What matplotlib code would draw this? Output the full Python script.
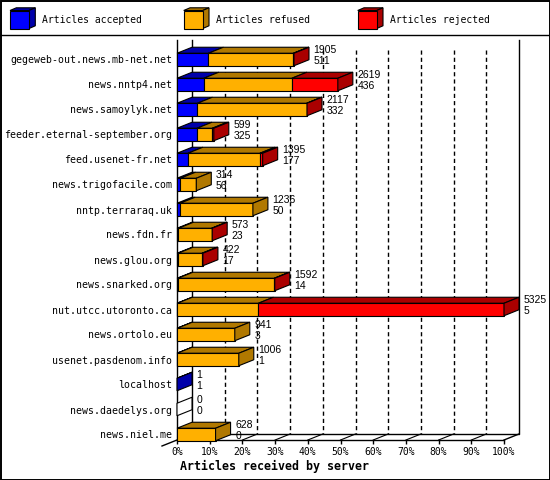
import numpy as np
import matplotlib.pyplot as plt
from matplotlib.patches import Polygon, Rectangle

plt.rcParams["lines.scale_dashes"] = False

servers = ["gegeweb-out.news.mb-net.net", "news.nntp4.net", "news.samoylyk.net",
           "feeder.eternal-september.org", "feed.usenet-fr.net", "news.trigofacile.com",
           "nntp.terraraq.uk", "news.fdn.fr", "news.glou.org", "news.snarked.org",
           "nut.utcc.utoronto.ca", "news.ortolo.eu", "usenet.pasdenom.info",
           "localhost", "news.daedelys.org", "news.niel.me"]
total = [1905, 2619, 2117, 599, 1395, 314, 1236, 573, 422, 1592, 5325, 941, 1006, 1, 0, 628]
accepted = [511, 436, 332, 325, 177, 56, 50, 23, 17, 14, 5, 3, 1, 1, 0, 0]
refused = [1384, 1434, 1780, 250, 1173, 258, 1186, 540, 390, 1571, 1320, 938, 1005, 0, 0, 628]
rejected = [10, 749, 5, 24, 45, 0, 0, 10, 15, 7, 4000, 0, 0, 0, 0, 0]
series = ["Articles accepted", "Articles refused", "Articles rejected"]

front = ["#0000ff", "#ffb000", "#ff0000"]
dark = ["#0000aa", "#b07800", "#aa0000"]

mono = "DejaVu Sans Mono"
W, Hpx = 550, 480
fig = plt.figure(figsize=(W / 100, Hpx / 100), dpi=100)

# background layer: frame + legend, in pixel units
bg = fig.add_axes([0, 0, 1, 1])
bg.set_xlim(0, W)
bg.set_ylim(Hpx, 0)
bg.axis("off")
bg.add_patch(Rectangle((0.5, 0.5), W - 1, Hpx - 1, fill=False, ec="black", lw=1.4))
bg.plot([0, W], [34.7, 34.7], color="black", lw=1)
for k, (name, x0) in enumerate(zip(series, [10, 183.7, 357.7])):
    fx, fy, fw, fh, cdx, cdy = x0, 10.5, 19, 18, 6.3, -2.7
    bg.add_patch(Polygon([(fx, fy), (fx + fw, fy), (fx + fw + cdx, fy + cdy), (fx + cdx, fy + cdy)],
                         fc=dark[k], ec="black", lw=0.8))
    bg.add_patch(Polygon([(fx + fw, fy), (fx + fw + cdx, fy + cdy), (fx + fw + cdx, fy + fh + cdy),
                          (fx + fw, fy + fh)], fc=dark[k], ec="black", lw=0.8))
    bg.add_patch(Rectangle((fx, fy), fw, fh, fc=front[k], ec="black", lw=0.8))
    bg.text(x0 + 32, 20, name, family=mono, fontsize=7, va="center", ha="left")

# main chart
ax = fig.add_axes([177 / W, 40 / Hpx, 327 / W, 400 / Hpx])
ax.set_facecolor("none")
ax.set_xlim(0, 100)
ax.set_ylim(15.22, -0.78)
DX = 15 / 3.27
DY = -0.24
H = 0.25
ytop = -0.78

# back wall, floor and grid
ax.plot([DX, DX, 100 + DX, 100 + DX], [ytop, 15.22 + DY, 15.22 + DY, ytop],
        color="black", lw=1, clip_on=False)
ax.plot([-DX, 0, DX], [15.22 - DY, 15.22, 15.22 + DY], color="black", lw=1, clip_on=False)
ax.plot([100, 100 + DX], [15.22, 15.22 + DY], color="black", lw=1, clip_on=False)
for p in range(10, 100, 10):
    ax.plot([p + DX, p + DX], [ytop + 0.4, 15.22 + DY], color="black", lw=1,
            linestyle=(0, (3, 2.2)), clip_on=False)
    ax.plot([p, p + DX], [15.22, 15.22 + DY], color="black", lw=0.8, clip_on=False)

scale = 100 / max(total)
for i in range(len(servers)):
    vals = [accepted[i], refused[i], rejected[i]]
    x0 = 0
    last = None
    for k, v in enumerate(vals):
        if v <= 0:
            continue
        w = v * scale
        x1 = x0 + w
        ax.add_patch(Polygon([(x0, i - H), (x1, i - H), (x1 + DX, i - H + DY), (x0 + DX, i - H + DY)],
                             fc=dark[k], ec="black", lw=0.8, zorder=3, clip_on=False))
        ax.barh(i, w, left=x0, height=2 * H, color=front[k], edgecolor="black",
                linewidth=0.8, zorder=4, clip_on=False)
        x0 = x1
        last = k
    side_fc = dark[last] if last is not None else "white"
    ax.add_patch(Polygon([(x0, i - H), (x0 + DX, i - H + DY), (x0 + DX, i + H + DY), (x0, i + H)],
                         fc=side_fc, ec="black", lw=0.8, zorder=4, clip_on=False))
    tx = total[i] * scale + DX + 1.4
    ax.text(tx, i - 0.39, str(total[i]), family="Liberation Sans", fontsize=7.5,
            va="center", ha="left", zorder=5, clip_on=False)
    ax.text(tx, i + 0.07, str(accepted[i]), family="Liberation Sans", fontsize=7.5,
            va="center", ha="left", zorder=5, clip_on=False)

for s in ["top", "right"]:
    ax.spines[s].set_visible(False)
ax.spines["left"].set_linewidth(1)
ax.spines["bottom"].set_linewidth(1)
ax.set_yticks(range(len(servers)))
ax.set_yticklabels(servers, family=mono, fontsize=7.1)
ax.tick_params(axis="y", length=0, pad=3.6)
ax.set_xticks(range(0, 101, 10))
ax.set_xticklabels([f"{p}%" for p in range(0, 101, 10)], family=mono, fontsize=7)
ax.tick_params(axis="x", length=3, width=1, pad=2)

fig.text(180 / W, 1 - 466.7 / Hpx, "Articles received by server", family=mono,
         fontsize=8.4, fontweight="bold", va="center", ha="left")

fig.savefig("out.png", dpi=100)
